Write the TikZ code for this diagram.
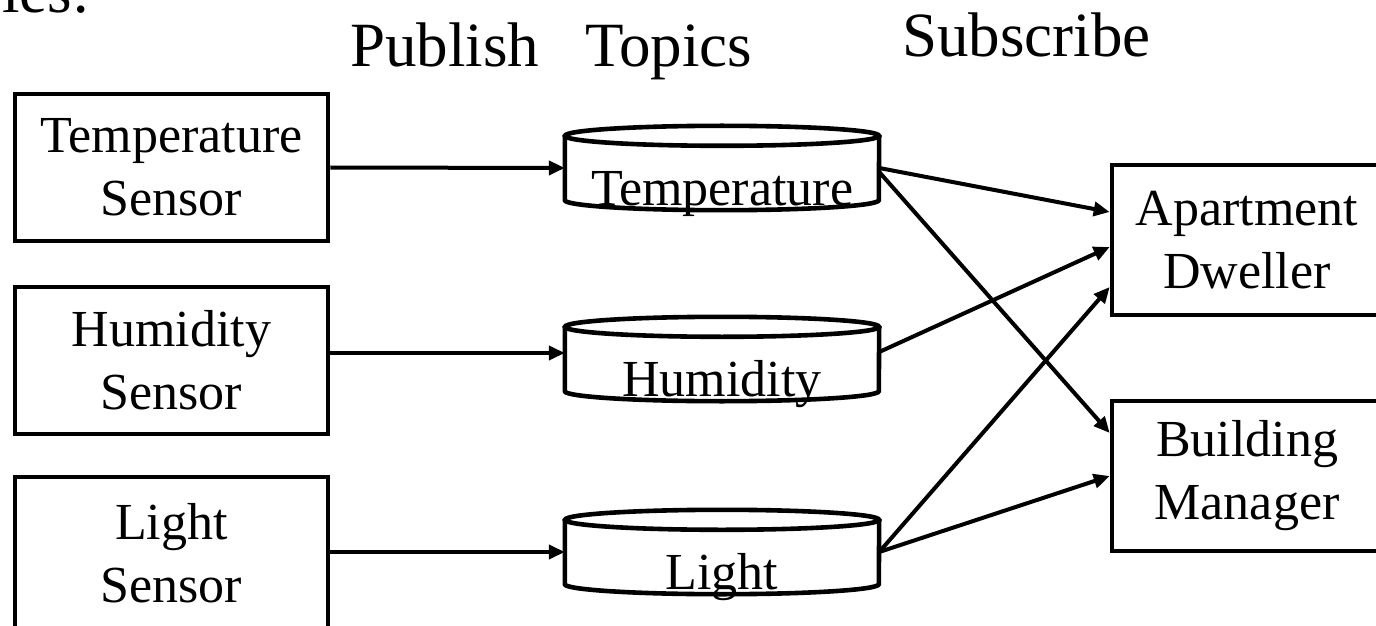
\documentclass[tikz,border=0pt]{standalone}
\usepackage{fontspec}
\setmainfont{Liberation Serif}
\usetikzlibrary{arrows.meta}

\begin{document}
\begin{tikzpicture}[
        x=1pt, y=1pt,
        box/.style={draw, line width=4.6pt, minimum width=313pt, minimum height=147pt, inner sep=0pt, align=center, font=\fontsize{52}{63}\selectfont},
        subbox/.style={box, minimum width=270pt, minimum height=150pt},
        topic/.style={minimum width=314pt, minimum height=84pt, inner sep=0pt},
        topicname/.style={anchor=base, yshift=5pt, inner sep=0pt, font=\fontsize{52}{63}\selectfont},
        topicline/.style={line width=4.6pt},
        heading/.style={anchor=base west, inner sep=0pt, font=\fontsize{63}{75}\selectfont},
        link/.style={line width=4pt, -{Triangle[length=16pt,width=14pt]}}
    ]
        \useasboundingbox (0,0) rectangle (1376,625);

        % Headings
        \node[heading, anchor=base east] (exmpl) at (90,612) {ples:};
        \node[heading] (pub) at (350,558) {Publish};
        \node[heading] (top) at (585,558) {Topics};
        \node[heading] (sub) at (902,568) {Subscribe};

        % Define sensors
        \node[box] (tsen) at (171.5,457.5) {Temperature\\Sensor};
        \node[box] (hsen) at (171.5,264.5) {Humidity\\Sensor};
        \node[box, minimum height=152pt] (lsen) at (171.5,72) {Light\\Sensor};

        % Define topics
        \node[topic, label={[topicname]south:Temperature}] (ttemp) at (722,457) {};
        \node[topic, label={[topicname]south:Humidity}] (thum) at (722,266) {};
        \node[topic, label={[topicname]south:Light}] (tlight) at (722,73) {};

        % Topic cylinders
        \foreach \t in {ttemp,thum,tlight}{
            \draw[topicline] ([yshift=-10pt]\t.north west) -- ([yshift=10pt]\t.south west)
                arc[start angle=180, end angle=360, x radius=157pt, y radius=10pt]
                -- ([yshift=-10pt]\t.north east);
            \draw[topicline] ([yshift=-10pt]\t.north) ellipse [x radius=157pt, y radius=10pt];
        }

        % Define subscribers
        \node[subbox] (apt) at (1247,385) {Apartment\\Dweller};
        \node[subbox] (bld) at (1247,149) {Building\\Manager};

        % Publish
        \draw[link] (tsen.east) -- (ttemp.west);
        \draw[link] ([yshift=7.5pt]hsen.east) -- ([yshift=6pt]thum.west);
        \draw[link] ([yshift=1pt]lsen.east) -- (tlight.west);

        % Subscribe
        % Temperature -> both
        \draw[link] (ttemp.east) -- ([yshift=28pt]apt.west);
        \draw[link] ([yshift=-4pt]ttemp.east) -- ([yshift=43pt]bld.west);

        % Humidity -> Apartment Dweller
        \draw[link] ([yshift=7pt]thum.east) -- ([yshift=-7pt]apt.west);

        % Light -> both
        \draw[link] (tlight.east) -- ([yshift=-47pt]apt.west);
        \draw[link] (tlight.east) -- (bld.west);

    \end{tikzpicture}
\end{document}
